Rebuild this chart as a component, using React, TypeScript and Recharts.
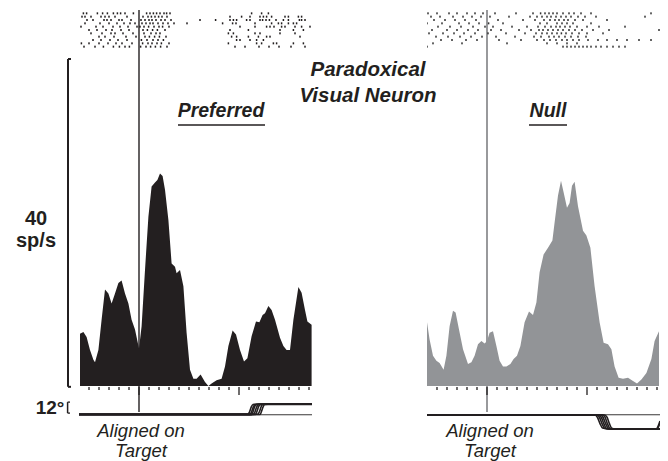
import React from "react";
import {
  AreaChart,
  Area,
  ScatterChart,
  Scatter,
  LineChart,
  Line,
  XAxis,
  YAxis,
  ReferenceLine,
} from "recharts";

// PSTH, time in ms from target onset, rate in spikes/s
const prefTimes = [
  -295, -278, -262, -245, -228, -220, -203, -187, -170, -153, -137, -120, -103, -87, -70, -53, -37, -20, 0,
  13, 30, 47, 63, 80, 92, 105, 118, 130, 147, 163, 180, 188, 205, 222, 238, 255, 272, 288, 308, 330, 347,
  363, 388, 413, 430, 447, 468, 485, 505, 525, 542, 563, 585, 602, 618, 630, 647, 663, 680, 705, 722, 738,
  755, 772, 797, 813, 830, 842, 863,
];
const prefRates = [
  6.4, 6.6, 6.0, 4.4, 3.2, 2.9, 4.4, 8.1, 11.8, 11.3, 10.1, 11.3, 12.6, 12.9, 11.3, 10.1, 8.1, 6.9, 4.6,
  7.3, 14.2, 20.7, 24.4, 24.9, 25.2, 26.0, 25.7, 24.0, 20.3, 15.0, 14.6, 13.8, 14.2, 12.2, 6.5, 2.0, 0.9, 0.9,
  1.4, 0.5, 0, 0.3, 0.7, 0.9, 2.4, 4.9, 6.8, 6.3, 4.4, 3.0, 3.4, 6.1, 7.9, 7.8, 8.7, 8.9, 9.8, 9.3, 8.1, 5.9,
  4.9, 4.4, 4.4, 8.1, 12.1, 11.4, 9.3, 7.9, 7.5,
];

const nullTimes = [
  -300, -287, -270, -253, -237, -217, -203, -187, -170, -157, -140, -120, -95, -78, -62, -45, -28, -12, 0,
  13, 30, 47, 63, 80, 97, 117, 133, 150, 167, 188, 210, 230, 247, 263, 283, 305, 327, 338, 355, 370, 383,
  400, 413, 425, 438, 455, 480, 497, 517, 538, 563, 583, 605, 622, 638, 658, 680, 705, 730, 750, 772, 797,
  822, 838, 860,
];
const nullRates = [
  7.8, 5.7, 3.7, 3.1, 2.8, 2.0, 3.7, 7.3, 9.2, 9.0, 6.9, 4.5, 2.7, 2.9, 3.7, 5.1, 5.5, 5.2, 5.5,
  6.5, 6.7, 4.9, 3.1, 2.4, 2.4, 2.7, 3.3, 3.7, 4.9, 7.8, 9.1, 8.7, 10.2, 13.9, 16.1, 16.9, 17.8, 20.0, 23.3,
  25.1, 23.7, 21.8, 22.4, 24.5, 25.0, 22.0, 19.0, 18.4, 16.9, 12.2, 7.8, 5.3, 5.1, 4.5, 2.4, 1.0, 0.9, 1.0,
  0.6, 0.3, 0.8, 1.6, 3.3, 5.5, 6.7,
];

// spike rasters, one array of spike times (ms) per trial
const prefRaster = [
  [-278, -262, -208, -182, -158, -128, -108, -92, -70, -28, 38, 55, 72, 88, 105, 125, 138, 155, 563, 613, 647],
  [-285, -270, -240, -190, -170, -150, -120, -60, 20, 45, 62, 80, 98, 115, 140, 455, 513, 555, 605, 622, 638, 663, 730, 747, 797, 813],
  [-260, -230, -175, -160, -140, -100, -85, -40, 10, 30, 50, 65, 85, 110, 130, 160, 305, 383, 455, 472, 488, 538, 555, 605, 618, 635, 652, 685, 722, 747, 802, 813, 830],
  [-270, -195, -150, -110, -75, -45, -20, 15, 35, 55, 70, 95, 120, 145, 175, 240, 418, 468, 485, 580, 663, 697, 713, 747, 772, 788],
  [-290, -215, -180, -130, -95, -55, -10, 5, 25, 48, 75, 100, 118, 150, 505, 580, 638, 655, 675, 713, 730, 780, 813, 855],
  [-250, -210, -165, -135, -90, -50, 20, 42, 68, 92, 130, 455, 547, 705, 772, 822],
  [-240, -185, -140, -120, -80, -30, 25, 60, 85, 105, 447, 472, 580, 605, 705, 780],
  [-200, -170, -125, -65, -15, 30, 52, 78, 102, 135, 463, 488, 547, 597, 638, 655, 805],
  [-230, -190, -145, -105, -60, 12, 40, 70, 95, 122, 488, 505, 555, 588, 622],
  [-288, -250, -200, -155, -115, -85, -35, 18, 45, 65, 90, 112, 150, 447, 588, 613, 672, 688, 772, 822],
  [-275, -220, -178, -128, -98, -70, -48, 8, 35, 58, 82, 108, 140, 480, 530, 600, 650, 700, 760, 830],
];

const nullRaster = [
  [-295, -250, -190, -150, -100, -60, -20, 40, 145, 230, 268, 290, 310, 330, 350, 380, 410, 435, 470, 520, 820],
  [-280, -235, -170, -120, -75, -30, 15, 110, 215, 250, 275, 300, 320, 345, 370, 395, 420, 455, 490, 545, 790],
  [-265, -210, -160, -110, -55, 55, 180, 240, 285, 315, 340, 360, 385, 405, 440, 480, 600],
  [-300, -225, -140, -90, -40, 8, 80, 265, 300, 350, 375, 400, 430, 520],
  [-245, -185, -130, -70, -10, 30, 125, 200, 255, 290, 320, 345, 365, 390, 415, 450, 500, 560, 690],
  [-275, -200, -150, -95, -45, 20, 70, 160, 220, 260, 280, 305, 330, 355, 380, 410, 440, 475, 530, 610, 860],
  [-290, -220, -165, -115, -60, 5, 95, 190, 245, 275, 300, 325, 350, 372, 395, 425, 460, 500, 580],
  [-255, -195, -135, -80, -25, 45, 140, 235, 270, 310, 335, 360, 390, 420, 455, 495],
  [-230, -175, -105, -50, 60, 170, 250, 285, 315, 345, 375, 400, 430, 460, 505, 555, 600, 650, 700, 760, 820],
  [-270, -125, 100, 300, 350, 400, 450],
  [-300, 380, 400, 420, 440, 460, 480, 500, 520, 545, 570, 600, 630, 660, 690],
];

// eye position traces (deg), [time, position] pairs
const prefEye = [
  [[-300, 0.2], [545, 0.2], [553, 3], [561, 8], [570, 10.8], [590, 11.3], [865, 11.3]],
  [[-300, 0], [555, 0], [563, 3], [571, 8], [580, 10.6], [600, 11.2], [865, 11.2]],
  [[-300, -0.2], [562, -0.2], [570, 3], [578, 8.5], [588, 10.9], [610, 11.1], [865, 11.1]],
  [[-300, 0.1], [572, 0.1], [580, 3], [588, 8], [598, 10.7], [620, 11.0], [865, 11.0]],
  [[-300, 0], [582, 0], [590, 3.5], [598, 8.5], [607, 10.8], [630, 11.2], [865, 11.2]],
  [[-300, 0.3], [594, 0.3], [602, 3], [610, 8], [618, 10.8], [640, 11.4], [865, 11.4]],
  [[-300, -0.1], [605, -0.1], [612, 3], [620, 8], [628, 10.9], [645, 11.2], [865, 11.2]],
];

const nullEye = [
  [[-300, -0.5], [540, -0.5], [552, -3], [565, -10], [578, -14.8], [600, -15.6], [865, -15.6]],
  [[-300, -0.3], [550, -0.3], [562, -3], [575, -10], [588, -15], [610, -15.8], [865, -15.8]],
  [[-300, -0.7], [560, -0.7], [572, -3.5], [585, -10.5], [597, -15.2], [620, -15.8], [845, -15.8], [865, -7]],
  [[-300, -0.5], [568, -0.5], [580, -3], [593, -10], [606, -15], [630, -16], [850, -16], [865, -9]],
  [[-300, -0.4], [578, -0.4], [590, -3], [603, -10.5], [615, -15.3], [635, -15.8], [865, -15.8]],
  [[-300, -0.5], [588, -0.5], [600, -3], [612, -10], [624, -15], [640, -15.6], [865, -15.6]],
];

const timeTicks = [
  -250, -200, -150, -100, -50, 0, 50, 100, 150, 200, 250, 300, 350, 400, 450, 500, 550, 600, 650, 700, 750,
  800, 850,
];
const majorTicks = [0, 500];

const INK = "#231f20";
const M = { top: 4, right: 4, bottom: 0, left: 10 };

function SpikeDot(props: any) {
  const { cx, cy, fill } = props;
  if (cx == null || cy == null) return null;
  return <rect x={cx - 0.75} y={cy - 1} width={1.5} height={2} fill={fill} />;
}

function TickMark(props: any) {
  const { x, y, payload } = props;
  const big = majorTicks.includes(payload.value);
  return <line x1={x} x2={x} y1={y + 1} y2={y + (big ? 9 : 4)} stroke={INK} strokeWidth={1.3} />;
}

type PanelProps = {
  left: number;
  domain: [number, number];
  times: number[];
  rates: number[];
  raster: number[][];
  eye: number[][][];
  fill: string;
  zeroColor: string;
  dotColor: string;
  scaleBars: boolean;
};

function Panel(p: PanelProps) {
  const plotW = (p.domain[1] - p.domain[0]) / 5;
  const chartW = plotW + M.left + M.right;
  const psth = p.times.map((t, i) => ({ t, r: p.rates[i] }));
  const dots = p.raster.flatMap((row, i) => row.map((t) => ({ t, row: i + 1 })));
  const barX = p.domain[0];

  return (
    <>
      {/* raster + target-onset line */}
      <div style={{ position: "absolute", left: p.left - M.left, top: 10 - M.top }}>
        <ScatterChart width={chartW} height={402 + M.top + M.bottom} margin={M}>
          <XAxis type="number" dataKey="t" domain={p.domain} allowDataOverflow hide />
          <YAxis type="number" dataKey="row" domain={[0, 120.6]} allowDataOverflow reversed hide />
          <ReferenceLine x={0} stroke={p.zeroColor} strokeWidth={1.4} />
          <Scatter data={dots} fill={p.dotColor} shape={SpikeDot} isAnimationActive={false} />
        </ScatterChart>
      </div>

      {/* PSTH */}
      <div style={{ position: "absolute", left: p.left - M.left, top: 59 - M.top }}>
        <AreaChart width={chartW} height={327 + M.top + 14} margin={M} data={psth}>
          <XAxis
            type="number"
            dataKey="t"
            domain={p.domain}
            allowDataOverflow
            ticks={timeTicks}
            interval={0}
            axisLine={false}
            tickLine={false}
            tickSize={0}
            tickMargin={0}
            height={14}
            tick={TickMark}
          />
          <YAxis type="number" domain={[0, 40]} allowDataOverflow hide />
          <Area
            dataKey="r"
            type="linear"
            stroke="none"
            fill={p.fill}
            fillOpacity={1}
            baseValue={0}
            isAnimationActive={false}
          />
          {p.scaleBars && (
            <ReferenceLine segment={[{ x: barX, y: -0.1 }, { x: barX, y: 40 }]} stroke={INK} strokeWidth={2} ifOverflow="visible" />
          )}
          {p.scaleBars && (
            <ReferenceLine segment={[{ x: barX, y: 40 }, { x: barX + 15, y: 40 }]} stroke={INK} strokeWidth={2} ifOverflow="visible" />
          )}
          {p.scaleBars && (
            <ReferenceLine segment={[{ x: barX, y: -0.1 }, { x: barX + 15, y: -0.1 }]} stroke={INK} strokeWidth={2} ifOverflow="visible" />
          )}
        </AreaChart>
      </div>

      {/* eye position */}
      <div style={{ position: "absolute", left: p.left - M.left, top: 390 - M.top }}>
        <LineChart width={chartW} height={44 + M.top + M.bottom} margin={M}>
          <XAxis type="number" dataKey="t" domain={p.domain} allowDataOverflow hide />
          <YAxis type="number" domain={[-21.3, 26.7]} allowDataOverflow hide />
          <ReferenceLine segment={[{ x: -300, y: -0.3 }, { x: 865, y: -0.3 }]} stroke={INK} strokeWidth={0.9} />
          {p.scaleBars && (
            <ReferenceLine segment={[{ x: barX - 2, y: 1.5 }, { x: barX - 2, y: 13.5 }]} stroke={INK} strokeWidth={1.5} ifOverflow="visible" />
          )}
          {p.scaleBars && (
            <ReferenceLine segment={[{ x: barX - 2, y: 13.5 }, { x: barX + 10, y: 13.5 }]} stroke={INK} strokeWidth={1.3} ifOverflow="visible" />
          )}
          {p.scaleBars && (
            <ReferenceLine segment={[{ x: barX - 2, y: 1.5 }, { x: barX + 10, y: 1.5 }]} stroke={INK} strokeWidth={1.3} ifOverflow="visible" />
          )}
          {p.eye.map((tr, i) => (
            <Line
              key={i}
              data={tr.map(([t, e]) => ({ t, e }))}
              dataKey="e"
              type="monotone"
              stroke={INK}
              strokeWidth={1.6}
              dot={false}
              isAnimationActive={false}
            />
          ))}
        </LineChart>
      </div>
    </>
  );
}

export default function App() {
  const font = "'Liberation Sans', Arial, sans-serif";
  return (
    <div style={{ position: "absolute", left: 0, top: 0, width: 668, height: 461, background: "#fff", overflow: "hidden" }}>
      <Panel
        left={68}
        domain={[-355, 865]}
        times={prefTimes}
        rates={prefRates}
        raster={prefRaster}
        eye={prefEye}
        fill={INK}
        zeroColor={INK}
        dotColor={INK}
        scaleBars
      />
      <Panel
        left={427.3}
        domain={[-300, 865]}
        times={nullTimes}
        rates={nullRates}
        raster={nullRaster}
        eye={nullEye}
        fill="#929497"
        zeroColor="#6d6e71"
        dotColor="#333"
        scaleBars={false}
      />
      <svg width={668} height={461} style={{ position: "absolute", left: 0, top: 0, pointerEvents: "none" }}>
        <g fontFamily={font} fill={INK}>
          <text x={368} y={76} textAnchor="middle" fontSize={20.5} fontWeight="bold" fontStyle="italic">Paradoxical</text>
          <text x={368} y={102} textAnchor="middle" fontSize={20.5} fontWeight="bold" fontStyle="italic">Visual Neuron</text>
          <text x={221} y={117} textAnchor="middle" fontSize={19.5} fontWeight="bold" fontStyle="italic">Preferred</text>
          <line x1={178} x2={265} y1={125} y2={125} stroke={INK} strokeWidth={1.5} />
          <text x={548} y={117} textAnchor="middle" fontSize={19.5} fontWeight="bold" fontStyle="italic">Null</text>
          <line x1={529} x2={567} y1={125} y2={125} stroke={INK} strokeWidth={1.5} />
          <text x={36} y={225} textAnchor="middle" fontSize={20} fontWeight="bold">40</text>
          <text x={36} y={247} textAnchor="middle" fontSize={20} fontWeight="bold">sp/s</text>
          <text x={50} y={414} textAnchor="middle" fontSize={19} fontWeight="bold">12°</text>
          <text x={141} y={437} textAnchor="middle" fontSize={18.5} fontStyle="italic">Aligned on</text>
          <text x={141} y={457} textAnchor="middle" fontSize={18.5} fontStyle="italic">Target</text>
          <text x={490} y={437} textAnchor="middle" fontSize={18.5} fontStyle="italic">Aligned on</text>
          <text x={490} y={457} textAnchor="middle" fontSize={18.5} fontStyle="italic">Target</text>
        </g>
      </svg>
    </div>
  );
}
